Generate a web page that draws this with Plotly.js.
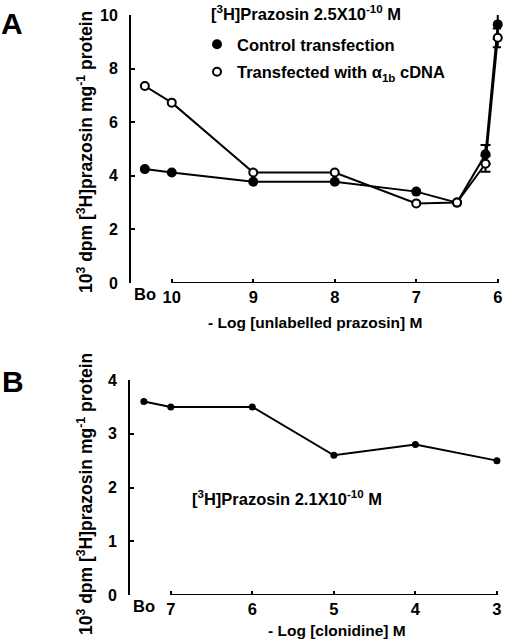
<!DOCTYPE html>
<html>
<head>
<meta charset="utf-8">
<script src="https://cdn.plot.ly/plotly-3.0.1.min.js"></script>
<style>html,body{margin:0;padding:0;background:#fff;}#chart{width:506px;height:640px;}</style>
</head>
<body>
<div id="chart"></div>
<script>
// Panel A: -log [unlabelled prazosin] M ("Bo" = no competitor)
const logA = [10.33, 10, 9, 8, 7, 6.5, 6.15, 6];
const tickValsA = [10, 9, 8, 7, 6];
const tickTextA = ['10', '9', '8', '7', '6'];
const controlA = [4.25, 4.12, 3.78, 3.78, 3.41, 3.0, 4.8, 9.65];
const controlErrA = [NaN, NaN, NaN, NaN, NaN, NaN, 0.35, 0.55];
const alpha1bA = [7.35, 6.73, 4.12, 4.12, 2.97, 3.0, 4.45, 9.15];
const alpha1bErrA = [NaN, NaN, NaN, NaN, NaN, NaN, 0.3, 0.35];
const yTicksA = [0, 2, 4, 6, 8, 10];

// Panel B: -log [clonidine] M
const logB = [7.33, 7, 6, 5, 4, 3];
const tickValsB = [7, 6, 5, 4, 3];
const tickTextB = ['7', '6', '5', '4', '3'];
const bindingB = [3.6, 3.5, 3.5, 2.6, 2.8, 2.5];
const yTicksB = [0, 1, 2, 3, 4];

const boLabel = 'Bo';

const FONT = 'Liberation Sans, Arial, Helvetica, sans-serif';
const bold = (size) => ({family: FONT, size: size, color: '#000', weight: 'bold'});

const traces = [
  {x: logA, y: controlA, xaxis: 'x', yaxis: 'y', mode: 'lines', line: {color: '#000', width: 2},
   showlegend: false, legendgroup: 'c', hoverinfo: 'skip'},
  {x: logA, y: controlA, xaxis: 'x', yaxis: 'y', mode: 'markers', name: 'Control transfection',
   legendgroup: 'c', cliponaxis: false,
   marker: {symbol: 'circle', size: 10, color: '#000'},
   error_y: {type: 'data', array: controlErrA, visible: true, color: '#000', thickness: 2, width: 5}},
  {x: logA, y: alpha1bA, xaxis: 'x', yaxis: 'y', mode: 'lines', line: {color: '#000', width: 2},
   showlegend: false, legendgroup: 't', hoverinfo: 'skip'},
  {x: logA, y: alpha1bA, xaxis: 'x', yaxis: 'y', mode: 'markers', name: 'Transfected with α<sub>1b</sub> cDNA',
   legendgroup: 't', cliponaxis: false,
   marker: {symbol: 'circle', size: 8, color: '#fff', line: {color: '#000', width: 2}},
   error_y: {type: 'data', array: alpha1bErrA, visible: true, color: '#000', thickness: 2, width: 5}},
  {x: logB, y: bindingB, xaxis: 'x2', yaxis: 'y2', mode: 'lines+markers', showlegend: false,
   cliponaxis: false, line: {color: '#000', width: 2}, marker: {symbol: 'circle', size: 7, color: '#000'}}
];

const yTitle = '10<sup>3</sup> dpm [<sup>3</sup>H]prazosin mg<sup>-1</sup> protein';

const xAxisCommon = {ticks: 'inside', ticklen: 4, tickwidth: 2, tickcolor: '#000',
  showline: false, showgrid: false, zeroline: false, tickfont: bold(16.5), ticklabelstandoff: 2};
const yAxisCommon = {ticks: 'inside', ticklen: 4, tickwidth: 2, tickcolor: '#000',
  showline: true, linewidth: 2, linecolor: '#000', showgrid: false, zeroline: false,
  tickfont: bold(16), ticklabelstandoff: 8};

const layout = {
  width: 506, height: 640,
  margin: {l: 0, r: 0, t: 0, b: 0},
  paper_bgcolor: '#fff', plot_bgcolor: '#fff',
  font: {family: FONT, color: '#000'},
  showlegend: true,
  legend: {x: 197/506, xanchor: 'left', y: 1 - 27/640, yanchor: 'top',
    font: bold(16.5), traceorder: 'grouped', tracegroupgap: 3,
    bgcolor: 'rgba(0,0,0,0)', borderwidth: 0},
  xaxis: Object.assign({domain: [131/506, 501/506], range: [10.5, 5.96], anchor: 'y',
    tickvals: tickValsA, ticktext: tickTextA}, xAxisCommon),
  yaxis: Object.assign({domain: [1 - 283/640, 1 - 15/640], range: [0, 10], anchor: 'x',
    tickvals: yTicksA}, yAxisCommon),
  xaxis2: Object.assign({domain: [130/506, 501/506], range: [7.5, 2.95], anchor: 'y2',
    tickvals: tickValsB, ticktext: tickTextB}, xAxisCommon),
  yaxis2: Object.assign({domain: [1 - 595/640, 1 - 380/640], range: [0, 4], anchor: 'x2',
    tickvals: yTicksB}, yAxisCommon),
  shapes: [
    {type: 'line', xref: 'x', yref: 'y', x0: tickValsA[0], x1: tickValsA[tickValsA.length - 1], y0: 0, y1: 0,
     line: {color: '#000', width: 2}},
    {type: 'line', xref: 'x2', yref: 'y2', x0: tickValsB[0], x1: tickValsB[tickValsB.length - 1], y0: 0, y1: 0,
     line: {color: '#000', width: 2}}
  ],
  annotations: [
    {text: 'A', xref: 'paper', yref: 'paper', x: 12/506, y: 1 - 24/640, xanchor: 'center', yanchor: 'middle',
     showarrow: false, font: bold(30)},
    {text: 'B', xref: 'paper', yref: 'paper', x: 13/506, y: 1 - 381/640, xanchor: 'center', yanchor: 'middle',
     showarrow: false, font: bold(30)},
    {text: boLabel, xref: 'x', yref: 'paper', x: logA[0], y: 1 - 294/640, xanchor: 'center', yanchor: 'middle',
     showarrow: false, font: bold(16.5)},
    {text: boLabel, xref: 'x2', yref: 'paper', x: logB[0], y: 1 - 606/640, xanchor: 'center', yanchor: 'middle',
     showarrow: false, font: bold(16.5)},
    {text: yTitle, xref: 'paper', yref: 'paper', x: 85/506, y: 1 - 152/640, textangle: -90,
     xanchor: 'center', yanchor: 'middle', showarrow: false, font: bold(17.5)},
    {text: yTitle, xref: 'paper', yref: 'paper', x: 85/506, y: 1 - 494/640, textangle: -90,
     xanchor: 'center', yanchor: 'middle', showarrow: false, font: bold(17.5)},
    {text: '- Log [unlabelled prazosin] M', xref: 'paper', yref: 'paper', x: 315/506, y: 1 - 322/640,
     xanchor: 'center', yanchor: 'middle', showarrow: false, font: bold(15.5)},
    {text: '- Log [clonidine] M', xref: 'paper', yref: 'paper', x: 337/506, y: 1 - 630/640,
     xanchor: 'center', yanchor: 'middle', showarrow: false, font: bold(15.5)},
    {text: '[<sup>3</sup>H]Prazosin 2.5X10<sup>-10</sup> M', xref: 'paper', yref: 'paper', x: 209/506, y: 1 - 13/640,
     xanchor: 'left', yanchor: 'middle', showarrow: false, font: bold(16.5)},
    {text: '[<sup>3</sup>H]Prazosin 2.1X10<sup>-10</sup> M', xref: 'paper', yref: 'paper', x: 190/506, y: 1 - 498/640,
     xanchor: 'left', yanchor: 'middle', showarrow: false, font: bold(16.5)}
  ]
};

Plotly.newPlot('chart', traces, layout, {staticPlot: true, displayModeBar: false});
</script>
</body>
</html>
